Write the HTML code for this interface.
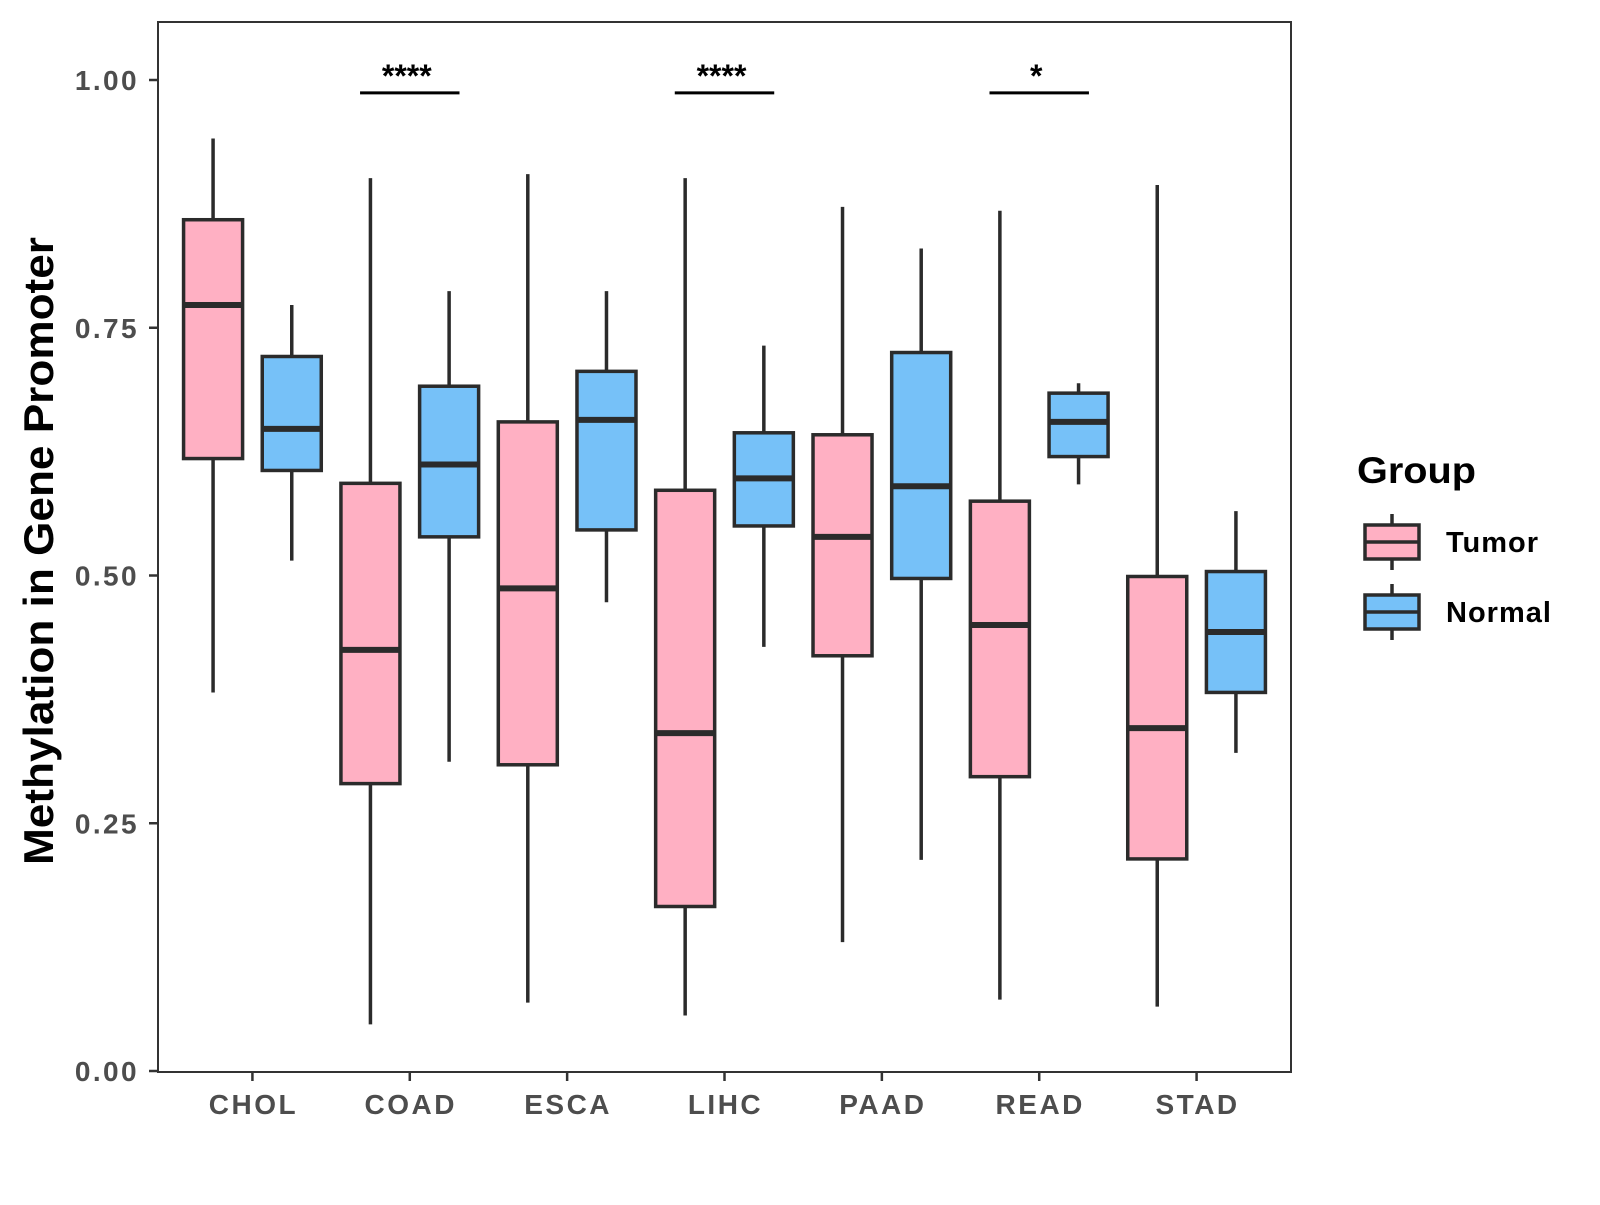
<!DOCTYPE html>
<html><head><meta charset="utf-8"><style>
body{margin:0;background:#fff}
svg text{font-family:"Liberation Sans",sans-serif;font-weight:bold}
</style></head><body>
<svg id="chart" width="1600" height="1200" viewBox="0 0 1600 1200" xmlns="http://www.w3.org/2000/svg">
<rect width="1600" height="1200" fill="#fff"/>
<g id="plot"></g>
</svg>
<script>
const categories=["CHOL","COAD","ESCA","LIHC","PAAD","READ","STAD"];
const groups=["Tumor","Normal"];
// [lowWhisker, Q1, median, Q3, highWhisker]
const tumorStats=[[0.382,0.618,0.773,0.859,0.941],[0.047,0.290,0.425,0.593,0.901],[0.069,0.309,0.487,0.655,0.905],[0.056,0.166,0.341,0.586,0.901],[0.130,0.419,0.539,0.642,0.872],[0.072,0.297,0.450,0.575,0.868],[0.065,0.214,0.346,0.499,0.894]];
const normalStats=[[0.515,0.606,0.648,0.721,0.773],[0.312,0.539,0.612,0.691,0.787],[0.473,0.546,0.657,0.706,0.787],[0.428,0.550,0.598,0.644,0.732],[0.213,0.497,0.590,0.725,0.830],[0.592,0.620,0.655,0.684,0.694],[0.321,0.382,0.443,0.504,0.565]];
const sigLabels=["","****","","****","","*",""];
const sigY=[0.987,0.987,0.987,0.987,0.987,0.987,0.987];
const yTicks=[0,0.25,0.5,0.75,1.0];
const yTickLabels=["0.00","0.25","0.50","0.75","1.00"];

const L=158,R=1291,T=22,B=1072;
const x=v=>L+(v-0.4)/7.2*(R-L);
const y=v=>1071-v*991;
const ns="http://www.w3.org/2000/svg";
const g=document.getElementById('plot');
function mk(tag,a,p){const e=document.createElementNS(ns,tag);for(const k in a)e.setAttribute(k,a[k]);(p||g).appendChild(e);return e;}
const fills=["#FFB0C3","#76C1F8"];
const frame=mk('rect',{x:L,y:T,width:R-L,height:B-T,fill:'none',stroke:'#333','stroke-width':2});


yTicks.forEach((t,i)=>{
  const l=mk('line',{x1:L-9,x2:L,y1:y(t),y2:y(t),stroke:'#333','stroke-width':2.5});
  
  
  const tx=mk('text',{x:L-19,y:y(t)+10,'text-anchor':'end','font-size':28,'letter-spacing':2.4,fill:'#4d4d4d'});
  tx.textContent=yTickLabels[i];
  
  
});
categories.forEach((c,i)=>{
  const cx=x(i+1);
  const l=mk('line',{x1:cx,x2:cx,y1:B,y2:B+9,stroke:'#333','stroke-width':2.5});
  
  
  const tx=mk('text',{x:cx+1,y:1114,'text-anchor':'middle','font-size':28,'letter-spacing':2.5,fill:'#4d4d4d'});
  tx.textContent=c;
  
  
  [tumorStats[i],normalStats[i]].forEach((s,j)=>{
    const bx=i+1+(j===0?-0.25:0.25), hw=0.1875;
    const gg=mk('g',{});
    
    
    mk('line',{x1:x(bx),x2:x(bx),y1:y(s[0]),y2:y(s[4]),stroke:'#2b2b2b','stroke-width':3.5},gg);
    mk('rect',{x:x(bx-hw),y:y(s[3]),width:x(bx+hw)-x(bx-hw),height:y(s[1])-y(s[3]),fill:fills[j],stroke:'#2b2b2b','stroke-width':3.5},gg);
    mk('line',{x1:x(bx-hw),x2:x(bx+hw),y1:y(s[2]),y2:y(s[2]),stroke:'#2b2b2b','stroke-width':6},gg);
  });
  if(sigLabels[i]){
    const bl=mk('line',{x1:x(i+1-0.316),x2:x(i+1+0.316),y1:y(sigY[i]),y2:y(sigY[i]),stroke:'#000','stroke-width':3});
    
    
    const st=mk('text',{x:x(i+1)-3,y:y(sigY[i])-6,'text-anchor':'middle','font-size':32,fill:'#000'});
    st.textContent=sigLabels[i];
    
    
  }
});
const yt=mk('text',{x:0,y:0,'text-anchor':'middle','font-size':42,textLength:628,lengthAdjust:'spacingAndGlyphs',fill:'#000',transform:'translate(53,551) rotate(-90)'});
yt.textContent='Methylation in Gene Promoter';


const lt=mk('text',{x:1357,y:483,'font-size':37,textLength:119,lengthAdjust:'spacingAndGlyphs',fill:'#000'});
lt.textContent='Group';


groups.forEach((gname,j)=>{
  const cy=542+j*70;
  const lg=mk('g',{});
  
  
  mk('line',{x1:1392,x2:1392,y1:cy-28,y2:cy+28,stroke:'#2b2b2b','stroke-width':3.5},lg);
  mk('rect',{x:1365,y:cy-17,width:54,height:34,fill:fills[j],stroke:'#2b2b2b','stroke-width':3.5},lg);
  mk('line',{x1:1365,x2:1419,y1:cy,y2:cy,stroke:'#2b2b2b','stroke-width':3.5},lg);
  const t=mk('text',{x:1446,y:cy+10,'font-size':29,'letter-spacing':1,fill:'#000'},lg);
  t.textContent=gname;
});
</script>
</body></html>
